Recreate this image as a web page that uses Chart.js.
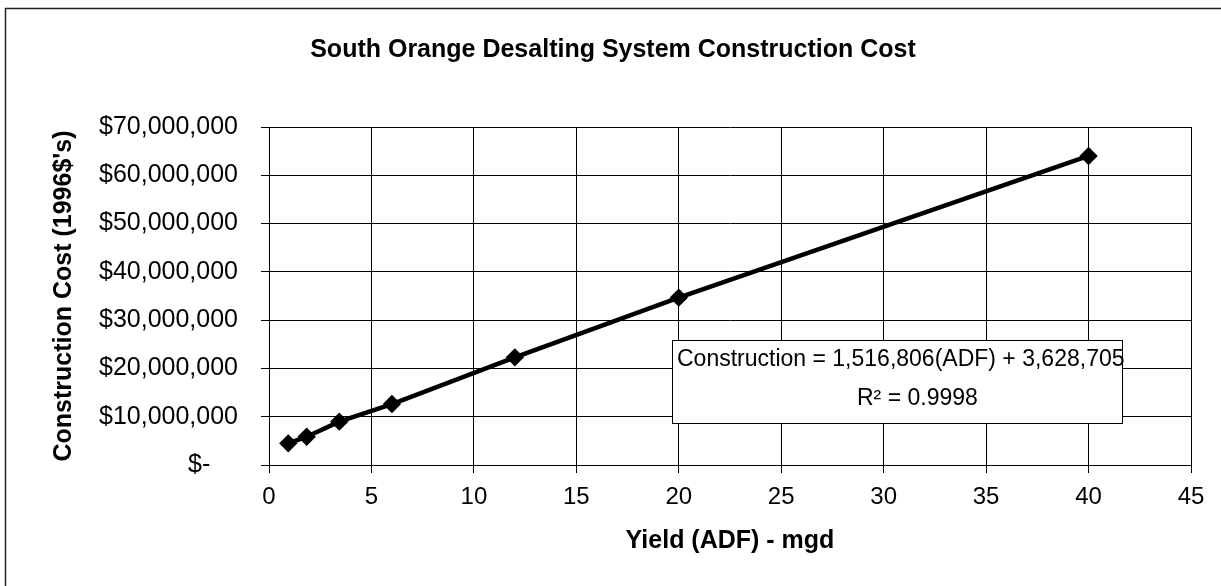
<!DOCTYPE html>
<html><head><meta charset="utf-8">
<script src="https://cdn.jsdelivr.net/npm/chart.js@4/dist/chart.umd.min.js"></script>
<style>html,body{margin:0;padding:0;background:#fff}#wrap{width:1221px;height:586px;position:relative}canvas{display:block}</style>
</head><body><div id="wrap"><canvas id="c" width="1221" height="586"></canvas></div>
<script>
const chartTitle = 'South Orange Desalting System Construction Cost';
const xAxisTitle = 'Yield (ADF) - mgd';
const yAxisTitle = "Construction Cost (1996$'s)";
const yieldMgd = [0.94, 1.84, 3.43, 6, 12, 20, 40];
const constructionCost = [4490000, 5860000, 8970000, 12630000, 22300000, 34650000, 64000000];
const xTickValues = [0, 5, 10, 15, 20, 25, 30, 35, 40, 45];
const yTickValues = [0, 10000000, 20000000, 30000000, 40000000, 50000000, 60000000, 70000000];
const equationLines = ['Construction = 1,516,806(ADF) + 3,628,705', 'R\u00B2 = 0.9998'];

const FONT = "'Liberation Sans', Arial, sans-serif";

function fmtMoney(v) {
  if (v === 0) return '$-    ';
  return '$' + v.toLocaleString('en-US');
}

const decor = {
  id: 'decor',
  afterDraw(chart) {
    const ctx = chart.ctx;
    ctx.save();
    // outer frame (top and left visible)
    ctx.strokeStyle = '#222';
    ctx.lineWidth = 1.5;
    ctx.beginPath();
    ctx.moveTo(5.5, 586);
    ctx.lineTo(5.5, 8.5);
    ctx.lineTo(1221, 8.5);
    ctx.stroke();
    // title
    ctx.fillStyle = '#000';
    ctx.font = "bold 25px " + FONT;
    ctx.textAlign = 'center';
    ctx.textBaseline = 'middle';
    ctx.fillText(chartTitle, 613, 50);
    // equation box
    const bx = 672.5, by = 340.5, bw = 450, bh = 83;
    ctx.fillStyle = '#fff';
    ctx.fillRect(bx, by, bw, bh);
    ctx.strokeStyle = '#000';
    ctx.lineWidth = 1;
    ctx.strokeRect(bx, by, bw, bh);
    ctx.fillStyle = '#000';
    ctx.font = "23px " + FONT;
    ctx.textAlign = 'left';
    ctx.fillText(equationLines[0], 677, 360);
    ctx.fillText(equationLines[1], 857, 399);
    ctx.restore();
  }
};

new Chart(document.getElementById('c'), {
  type: 'scatter',
  data: {
    datasets: [{
      data: yieldMgd.map((x, i) => ({ x: x, y: constructionCost[i] })),
      showLine: true,
      borderColor: '#000',
      backgroundColor: '#000',
      borderWidth: 4.5,
      pointStyle: 'rectRot',
      pointRadius: 6,
      pointHoverRadius: 6,
      tension: 0
    }]
  },
  options: {
    responsive: false,
    animation: false,
    devicePixelRatio: 1,
    layout: { padding: { top: 127, right: 30, left: 0, bottom: 0 } },
    plugins: { legend: { display: false }, tooltip: { enabled: false }, title: { display: false } },
    scales: {
      x: {
        type: 'linear', min: 0, max: 45,
        afterBuildTicks: s => { s.ticks = xTickValues.map(v => ({ value: v })); },
        afterFit: s => { s.height = 121; },
        grid: { color: '#000', lineWidth: 1, tickLength: 8, drawTicks: true },
        border: { color: '#000', width: 1 },
        ticks: { color: '#000', font: { family: FONT, size: 24 }, padding: 10, maxRotation: 0 },
        title: { display: true, text: xAxisTitle, color: '#000', font: { family: FONT, size: 25, weight: 'bold' }, padding: { top: 0, bottom: 30 } }
      },
      y: {
        type: 'linear', min: 0, max: 70000000,
        afterBuildTicks: s => { s.ticks = yTickValues.map(v => ({ value: v })); },
        afterFit: s => { s.width = 269; },
        grid: { color: '#000', lineWidth: 1, tickLength: 8, drawTicks: true },
        border: { color: '#000', width: 1 },
        ticks: { color: '#000', font: { family: FONT, size: 25 }, padding: 23, callback: v => fmtMoney(v) },
        title: { display: true, text: yAxisTitle, color: '#000', font: { family: FONT, size: 25, weight: 'bold' }, padding: { top: 49, bottom: 0 } }
      }
    }
  },
  plugins: [decor]
});
</script></body></html>
